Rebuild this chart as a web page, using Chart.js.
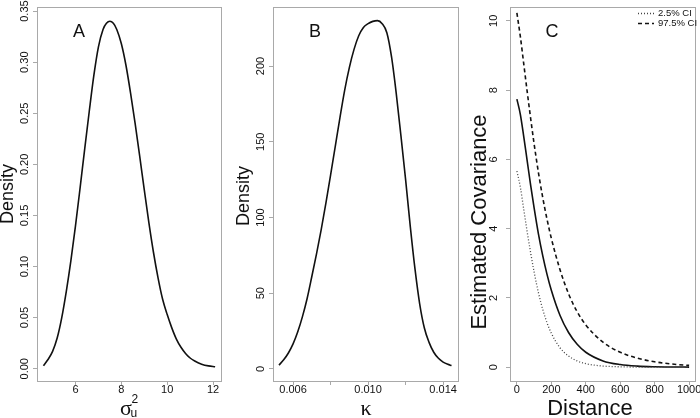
<!DOCTYPE html>
<html>
<head>
<meta charset="utf-8">
<script src="https://cdn.jsdelivr.net/npm/chart.js@4.4.0/dist/chart.umd.min.js"></script>
<style>
  html, body { margin: 0; padding: 0; background: #fff; }
  #wrap { position: relative; width: 700px; height: 418px; overflow: hidden; }
  canvas { position: absolute; top: 0; }
</style>
</head>
<body>
<div id="wrap">
  <canvas id="panelA" width="232" height="418" style="left:0px"></canvas>
  <canvas id="panelB" width="233" height="418" style="left:232px"></canvas>
  <canvas id="panelC" width="235" height="418" style="left:465px"></canvas>
</div>
<script>
// A: posterior density of sigma_u^2
const sigmaX = [4.6, 4.8, 5.0, 5.2, 5.4, 5.6, 5.8, 6.0, 6.2, 6.4, 6.6, 6.8, 7.0, 7.2, 7.35, 7.5, 7.65, 7.8, 8.0, 8.2, 8.4, 8.6, 8.8, 9.0, 9.2, 9.4, 9.6, 9.8, 10.0, 10.2, 10.4, 10.6, 10.8, 11.0, 11.2, 11.5, 11.8, 12.09];
const sigmaDensity = [0.003, 0.009, 0.017, 0.030, 0.050, 0.076, 0.106, 0.140, 0.177, 0.215, 0.252, 0.287, 0.315, 0.332, 0.338, 0.340, 0.338, 0.332, 0.318, 0.297, 0.270, 0.240, 0.208, 0.175, 0.143, 0.114, 0.089, 0.068, 0.053, 0.040, 0.029, 0.021, 0.015, 0.0105, 0.0075, 0.0045, 0.0028, 0.002];
const sigmaXTicks = [6, 8, 10, 12];
const sigmaYTicks = [0, 0.05, 0.10, 0.15, 0.20, 0.25, 0.30, 0.35];

// B: posterior density of kappa
const kappaX = [0.00525, 0.0055, 0.00575, 0.006, 0.00625, 0.0065, 0.00675, 0.007, 0.00725, 0.0075, 0.00775, 0.008, 0.00825, 0.0085, 0.00875, 0.009, 0.00925, 0.0095, 0.00975, 0.01, 0.01025, 0.0105, 0.01075, 0.011, 0.01125, 0.0115, 0.01175, 0.012, 0.01225, 0.0125, 0.01275, 0.013, 0.01325, 0.0135, 0.01375, 0.014, 0.01425, 0.01445];
const kappaDensity = [2.5, 6, 10.5, 16.5, 24.5, 34.5, 46.5, 61, 76, 92, 109.5, 128, 147, 166, 184, 199, 211, 220, 225.5, 228, 229.5, 230, 228, 222, 206, 182, 154, 125, 94, 66, 43, 27, 17.5, 11, 7, 4.5, 3, 2.2];
const kappaXTicks = [0.006, 0.008, 0.010, 0.012, 0.014];
const kappaXLabels = ['0.006', '', '0.010', '', '0.014'];
const kappaYTicks = [0, 50, 100, 150, 200];

// C: estimated covariance vs distance
const distance = [0, 20, 40, 60, 80, 100, 125, 150, 175, 200, 250, 300, 350, 400, 500, 600, 700, 800, 900, 1000];
const covMean = [7.74, 7.30, 6.65, 5.95, 5.25, 4.60, 3.85, 3.22, 2.68, 2.22, 1.50, 1.00, 0.66, 0.43, 0.18, 0.075, 0.03, 0.012, 0.005, 0.002];
const covUpper = [10.23, 9.55, 8.75, 7.95, 7.18, 6.45, 5.62, 4.90, 4.27, 3.72, 2.82, 2.12, 1.60, 1.22, 0.72, 0.43, 0.26, 0.155, 0.09, 0.05];
const covLower = [5.66, 5.20, 4.55, 3.90, 3.30, 2.75, 2.15, 1.67, 1.28, 0.98, 0.56, 0.32, 0.18, 0.10, 0.032, 0.01, 0.003, 0.001, 0, 0];
const distXTicks = [0, 200, 400, 600, 800, 1000];
const covYTicks = [0, 2, 4, 6, 8, 10];
const legendLabels = ['2.5% CI', '97.5% CI'];

const SANS = '"Liberation Sans", Arial, sans-serif';
const SERIF = '"Liberation Serif", "Times New Roman", serif';
const BOX = '#a9a9a9';
const INK = '#111';

const pts = (xs, ys) => xs.map((x, i) => ({ x: x, y: ys[i] }));

function line(xs, ys, dash, color, width) {
  return {
    data: pts(xs, ys),
    borderColor: color || INK,
    borderWidth: width || 1.6,
    borderDash: dash || [],
    pointRadius: 0,
    cubicInterpolationMode: 'monotone'
  };
}

function rotText(ctx, text, x, y, font) {
  ctx.save();
  ctx.translate(x, y);
  ctx.rotate(-Math.PI / 2);
  ctx.font = font;
  ctx.fillStyle = INK;
  ctx.textAlign = 'center';
  ctx.textBaseline = 'middle';
  ctx.fillText(text, 0, 0);
  ctx.restore();
}

// box, rotated y tick labels, titles, letter
function decor(p) {
  return {
    id: 'decor',
    afterDraw(chart) {
      const { ctx, chartArea: a, scales } = chart;
      ctx.save();
      ctx.strokeStyle = BOX;
      ctx.lineWidth = 1;
      ctx.strokeRect(Math.round(a.left) + 0.5, Math.round(a.top) + 0.5,
        Math.round(a.right - a.left) - 1, Math.round(a.bottom - a.top));
      scales.y.ticks.forEach(t => {
        rotText(ctx, p.yFmt(t.value), a.left - p.yLabelDx, scales.y.getPixelForValue(t.value), '11px ' + SANS);
      });
      rotText(ctx, p.yTitle, p.yTitleX, p.yTitleY, p.yTitleFont);
      ctx.fillStyle = INK;
      ctx.font = '18px ' + SANS;
      ctx.textAlign = 'center';
      ctx.textBaseline = 'middle';
      ctx.fillText(p.letter, p.letterX, 32);
      p.xTitle(ctx);
      if (p.extra) p.extra(ctx);
      ctx.restore();
    }
  };
}

function axes(xMin, xMax, xTicks, xFmt, yMin, yMax, yTicks, yWidth) {
  const grid = { drawOnChartArea: false, drawTicks: true, tickLength: 4, color: BOX, lineWidth: 1 };
  return {
    x: {
      type: 'linear', min: xMin, max: xMax,
      afterBuildTicks: s => { s.ticks = xTicks.map(v => ({ value: v })); },
      afterFit: s => { s.height = 37; },
      grid: grid, border: { display: false },
      ticks: { autoSkip: false, maxRotation: 0, padding: -2, color: INK, font: { family: SANS, size: 11 }, callback: xFmt }
    },
    y: {
      type: 'linear', min: yMin, max: yMax,
      afterBuildTicks: s => { s.ticks = yTicks.map(v => ({ value: v })); },
      afterFit: s => { s.width = yWidth; },
      grid: grid, border: { display: false },
      ticks: { display: false }
    }
  };
}

function panel(id, datasets, scales, padRight, plug) {
  return new Chart(document.getElementById(id), {
    type: 'line',
    data: { datasets: datasets },
    options: {
      responsive: false,
      animation: false,
      devicePixelRatio: 1,
      layout: { padding: { top: 7, right: padRight, left: 0, bottom: 0 } },
      plugins: { legend: { display: false }, tooltip: { enabled: false } },
      scales: scales
    },
    plugins: [plug]
  });
}

panel('panelA',
  [line(sigmaX, sigmaDensity)],
  axes(4.32, 12.39, sigmaXTicks, v => String(v), -0.012, 0.354, sigmaYTicks, 37),
  10,
  decor({
    letter: 'A', letterX: 79,
    yFmt: v => v.toFixed(2), yLabelDx: 12.5,
    yTitle: 'Density', yTitleX: 8, yTitleY: 194, yTitleFont: '18px ' + SANS,
    xTitle: ctx => {
      ctx.textAlign = 'left';
      ctx.textBaseline = 'alphabetic';
      ctx.font = '22px ' + SERIF;
      ctx.fillText('\u03c3', 120, 415);
      ctx.font = '12px ' + SANS;
      ctx.fillText('2', 131.5, 403);
      ctx.fillText('u', 130.5, 417);
    }
  })
);

panel('panelB',
  [line(kappaX, kappaDensity)],
  axes(0.00493, 0.01482, kappaXTicks, (v, i) => kappaXLabels[i], -8, 239, kappaYTicks, 41),
  6.5,
  decor({
    letter: 'B', letterX: 83,
    yFmt: v => String(v), yLabelDx: 12.5,
    yTitle: 'Density', yTitleX: 12, yTitleY: 196, yTitleFont: '18px ' + SANS,
    xTitle: ctx => {
      ctx.textAlign = 'center';
      ctx.textBaseline = 'alphabetic';
      ctx.font = '22px ' + SERIF;
      ctx.fillText('\u03ba', 134, 415);
    }
  })
);

panel('panelC',
  [
    line(distance, covLower, [1, 2], '#444', 1.3),
    line(distance, covMean),
    line(distance, covUpper, [4, 3])
  ],
  axes(-40, 1040, distXTicks, v => String(v), -0.4, 10.4, covYTicks, 45),
  4,
  decor({
    letter: 'C', letterX: 87,
    yFmt: v => String(v), yLabelDx: 16,
    yTitle: 'Estimated Covariance', yTitleX: 15, yTitleY: 222, yTitleFont: '22px ' + SANS,
    xTitle: ctx => {
      ctx.textAlign = 'center';
      ctx.textBaseline = 'alphabetic';
      ctx.font = '22px ' + SANS;
      ctx.fillText('Distance', 125, 415);
    },
    extra: ctx => {
      const rows = [[13.5, [1, 2], '#444', 1.3], [23.5, [4, 3], INK, 1.6]];
      rows.forEach((r, i) => {
        ctx.save();
        ctx.strokeStyle = r[2];
        ctx.lineWidth = r[3];
        ctx.setLineDash(r[1]);
        ctx.beginPath();
        ctx.moveTo(173, r[0]);
        ctx.lineTo(189, r[0]);
        ctx.stroke();
        ctx.restore();
        ctx.fillStyle = INK;
        ctx.font = '9.5px ' + SANS;
        ctx.textAlign = 'left';
        ctx.textBaseline = 'middle';
        ctx.fillText(legendLabels[i], 193, r[0]);
      });
    }
  })
);
</script>
</body>
</html>
